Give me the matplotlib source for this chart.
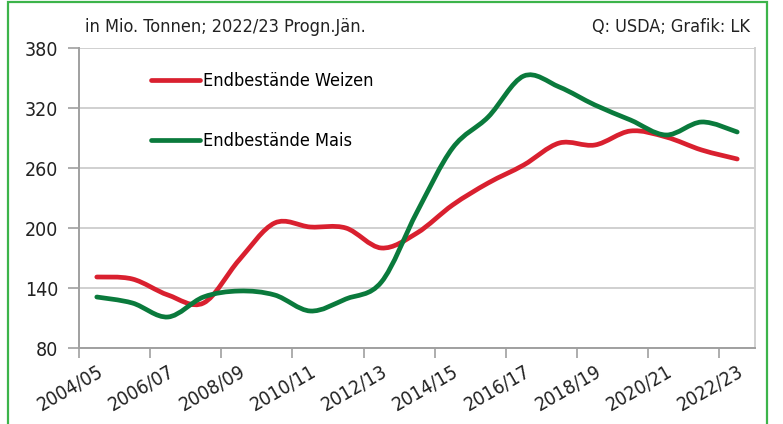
import matplotlib
matplotlib.use('Agg')
from matplotlib import pyplot as plt
from matplotlib.path import Path
from matplotlib.patches import PathPatch, Rectangle
from matplotlib.lines import Line2D
import numpy as np

plt.rcParams['font.family'] = ['DejaVu Sans']
plt.rcParams['font.stretch'] = 'condensed'

seasons = ['2004/05', '2005/06', '2006/07', '2007/08', '2008/09', '2009/10', '2010/11',
           '2011/12', '2012/13', '2013/14', '2014/15', '2015/16', '2016/17', '2017/18',
           '2018/19', '2019/20', '2020/21', '2021/22', '2022/23']
weizen = [151, 149, 133, 125, 168, 205, 201, 200, 180, 195, 223, 245, 263, 285, 283, 297, 291, 278, 269]
mais = [131, 125, 111, 131, 137, 133, 117, 129, 146, 216, 280, 311, 352, 341, 323, 308, 293, 306, 296]

RED = '#d9202f'
GREEN = '#0a7a3c'
GRID = '#c8c8c8'
AXIS = '#a0a0a0'


def smooth_path(xs, ys):
    # excel-like smoothed line as cubic bezier segments
    pts = np.column_stack([xs, ys]).astype(float)
    n = len(pts)
    verts = [pts[0]]
    codes = [Path.MOVETO]
    for i in range(n - 1):
        p0 = pts[i - 1] if i > 0 else pts[i]
        p1 = pts[i]
        p2 = pts[i + 1]
        p3 = pts[i + 2] if i + 2 < n else pts[i + 1]
        c1 = p1 + (p2 - p0) / 6
        c2 = p2 - (p3 - p1) / 6
        verts += [c1, c2, p2]
        codes += [Path.CURVE4] * 3
    return Path(verts, codes)


fig = plt.figure(figsize=(7.83, 4.24), dpi=100)
ax = fig.add_axes([79 / 783, 1 - 348 / 424, 676 / 783, 300 / 424])

x = np.arange(len(seasons))
for vals, col in [(weizen, RED), (mais, GREEN)]:
    ax.add_patch(PathPatch(smooth_path(x, vals), facecolor='none', edgecolor=col,
                           lw=3.4, capstyle='round', joinstyle='round', zorder=3))

ax.set_xlim(-0.5, len(seasons) - 0.5)
ax.set_ylim(80, 380)
ax.set_yticks(range(80, 381, 60))
ax.yaxis.grid(True, color=GRID, lw=1.2)
ax.set_axisbelow(True)

# tick marks on category boundaries, labels on every second season
ax.set_xticks(np.arange(-0.5, len(seasons) - 1, 2))
ax.set_xticklabels([])
ax.set_xticks(x[::2], minor=True)
ax.set_xticklabels(seasons[::2], minor=True, rotation=30, ha='right',
                   rotation_mode='anchor', fontsize=14, color='#222222')
ax.tick_params(axis='x', which='major', length=7, color=AXIS, width=1.2)
ax.tick_params(axis='x', which='minor', length=0, pad=10)
ax.tick_params(axis='y', length=8, color=AXIS, width=1.2, labelsize=14,
               labelcolor='#222222', pad=7)

for side in ['left', 'bottom']:
    ax.spines[side].set_color(AXIS)
    ax.spines[side].set_linewidth(1.4)
ax.spines['right'].set_color('#d0d0d0')
ax.spines['right'].set_linewidth(1.4)
ax.spines['top'].set_visible(False)

handles = [Line2D([], [], color=RED, lw=3.4, solid_capstyle='round'),
           Line2D([], [], color=GREEN, lw=3.4, solid_capstyle='round')]
ax.legend(handles, ['Endbestände Weizen', 'Endbestände Mais'], loc='upper left',
          bbox_to_anchor=(0.083, 0.973), frameon=False, fontsize=13, handlelength=2.7,
          handletextpad=0.15, labelspacing=2.3)

fig.text(85 / 783, 1 - 27 / 424, 'in Mio. Tonnen; 2022/23 Progn.Jän.', fontsize=13,
         color='#222222', va='center', ha='left')
fig.text(750 / 783, 1 - 27 / 424, 'Q: USDA; Grafik: LK', fontsize=13,
         color='#222222', va='center', ha='right')

fig.add_artist(Rectangle((8 / 783, -0.05), 759 / 783, 1.05 - 1.5 / 424,
                         transform=fig.transFigure, fill=False,
                         edgecolor='#3cb44a', lw=1.6))

fig.savefig('out.png', dpi=100)
